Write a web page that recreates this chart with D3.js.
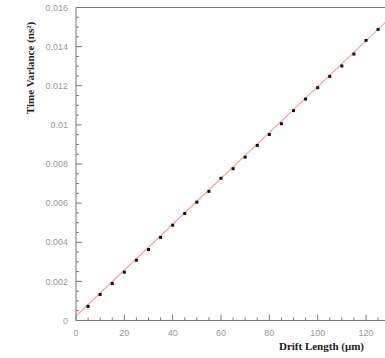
<!DOCTYPE html>
<html>
<head>
<meta charset="utf-8">
<script src="https://cdn.jsdelivr.net/npm/d3@7"></script>
<style>
  body { margin: 0; background: #fff; }
  svg { display: block; }
</style>
</head>
<body>
<div id="chart"></div>
<script>
// drift length (um) and measured time variance (ns^2)
const driftLength = [5, 10, 15, 20, 25, 30, 35, 40, 45, 50, 55, 60, 65, 70, 75, 80, 85, 90, 95, 100, 105, 110, 115, 120, 125];
const timeVariance = [0.00072, 0.00133, 0.00189, 0.00247, 0.00308, 0.00363, 0.00425, 0.00487, 0.00547, 0.00605,
  0.0066, 0.00727, 0.00776, 0.00835, 0.00895, 0.00951, 0.01006, 0.01073, 0.01132, 0.0119,
  0.01248, 0.01301, 0.01362, 0.01432, 0.01488];
// straight-line fit, given by its two end points
const fitX = [0, 130];
const fitY = [0.00023, 0.01547];
const yTicks = [0, 0.002, 0.004, 0.006, 0.008, 0.01, 0.012, 0.014, 0.016];
const xTicks = [0, 20, 40, 60, 80, 100, 120];

const width = 385, height = 358;
const margin = {top: 7.5, left: 76, bottom: 320.5};

const svg = d3.select("#chart").append("svg")
  .attr("width", width).attr("height", height);

let x = d3.scaleLinear().domain([0, 130]).range([margin.left, margin.left + 130 * 2.4167]);
let y = d3.scaleLinear().domain([0, 0.016]).range([margin.bottom, margin.top]);

const axisColor = "#777", labelColor = "#999";

// frame: top line
svg.append("line")
  .attr("x1", margin.left).attr("x2", width)
  .attr("y1", margin.top).attr("y2", margin.top)
  .attr("stroke", axisColor);

// y axis, ticks pointing inward
let yAxis = svg.append("g").attr("transform", `translate(${margin.left},0)`);
yAxis.append("line")
  .attr("x1", 0).attr("x2", 0).attr("y1", margin.top).attr("y2", margin.bottom)
  .attr("stroke", axisColor);
yAxis.selectAll(".minor").data(d3.range(0, 33).map(i => i * 0.0005))
  .join("line")
  .attr("x1", 0).attr("x2", d => (Math.round(d * 10000) % 20 === 0) ? 6 : 3)
  .attr("y1", d => y(d)).attr("y2", d => y(d))
  .attr("stroke", axisColor);
yAxis.selectAll("text").data(yTicks).join("text")
  .attr("x", -8).attr("y", d => y(d)).attr("dy", "0.35em")
  .attr("text-anchor", "end")
  .attr("font-family", "Liberation Sans, Arial, sans-serif")
  .attr("font-size", 9)
  .attr("fill", labelColor)
  .text(d => d === 0 ? "0" : String(d));

// x axis, ticks pointing up
let xAxis = svg.append("g").attr("transform", `translate(0,${margin.bottom})`);
xAxis.append("line")
  .attr("x1", margin.left).attr("x2", width).attr("y1", 0).attr("y2", 0)
  .attr("stroke", axisColor);
xAxis.selectAll(".tick").data(d3.range(0, 131, 5))
  .join("line")
  .attr("x1", d => x(d)).attr("x2", d => x(d))
  .attr("y1", 0).attr("y2", d => d % 20 === 0 ? -6 : -3)
  .attr("stroke", axisColor);
xAxis.selectAll("text").data(xTicks).join("text")
  .attr("x", d => x(d)).attr("y", 15)
  .attr("text-anchor", "middle")
  .attr("font-family", "Liberation Sans, Arial, sans-serif")
  .attr("font-size", 9)
  .attr("fill", labelColor)
  .text(d => d);

// axis titles
svg.append("text")
  .attr("text-anchor", "end")
  .attr("x", 364).attr("y", 350)
  .attr("font-family", "Liberation Serif, Times New Roman, serif")
  .attr("font-weight", "bold")
  .attr("font-size", 11)
  .attr("fill", "#222")
  .text("Drift Length (\u03bcm)");

svg.append("text")
  .attr("text-anchor", "middle")
  .attr("transform", "translate(34,68) rotate(-90)")
  .attr("font-family", "Liberation Serif, Times New Roman, serif")
  .attr("font-weight", "bold")
  .attr("font-size", 11)
  .attr("fill", "#222")
  .text("Time Variance (ns\u00b2)");

// fit line
let line = d3.line().x(d => x(d[0])).y(d => y(d[1]));
svg.append("path")
  .datum(fitX.map((d, i) => [d, fitY[i]]))
  .attr("d", line)
  .attr("fill", "none")
  .attr("stroke", "#ff9b9b")
  .attr("stroke-width", 1.2);

// data points
svg.selectAll(".pt").data(driftLength)
  .join("rect")
  .attr("x", (d) => x(d) - 1.5)
  .attr("y", (d, i) => y(timeVariance[i]) - 1.5)
  .attr("width", 3).attr("height", 3)
  .attr("fill", "#111");
</script>
</body>
</html>
